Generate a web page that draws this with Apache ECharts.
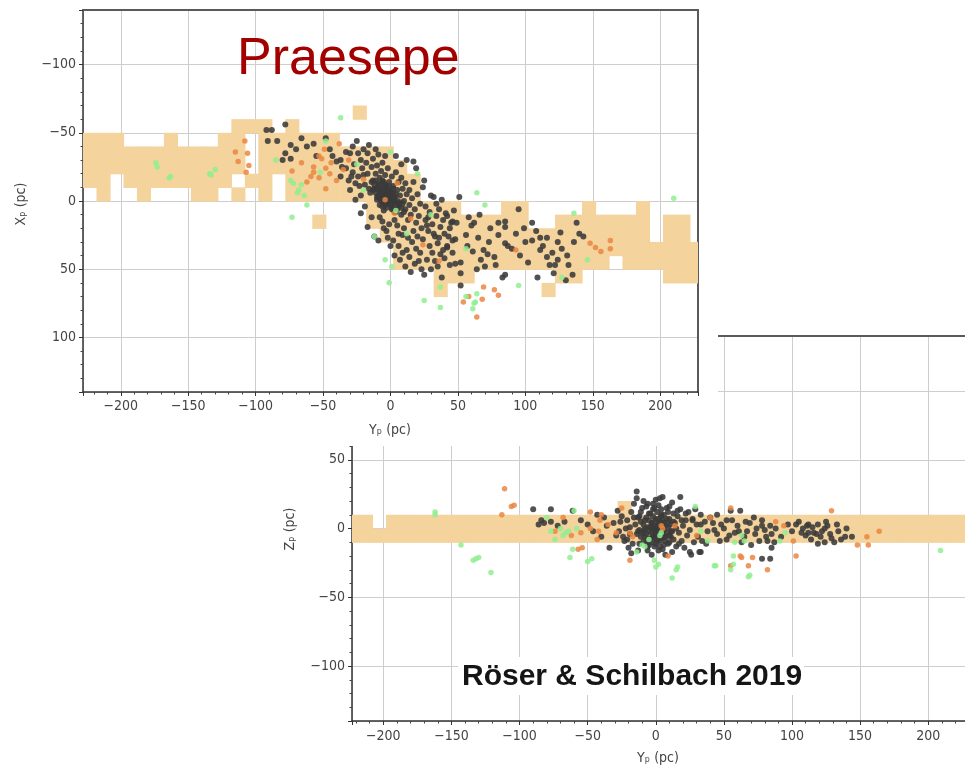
<!DOCTYPE html>
<html><head><meta charset="utf-8">
<script src="https://cdn.jsdelivr.net/npm/echarts@6.0.0/dist/echarts.min.js"></script>
<style>html,body{margin:0;padding:0;background:#fff}#c{width:965px;height:768px}</style>
</head><body><div id="c"></div>
<script>
// ---------- DATA ----------
const titleText = 'Praesepe';
const creditText = 'Röser & Schilbach 2019';
const xNameTop = 'X\u209A (pc)';
const yNameTop = 'Y\u209A (pc)';
const zNameBot = 'Z\u209A (pc)';
const tickStep = 50;

// model density cells (bin origin and size in pc)
const cellOrigin = -228;
const cellSize = 10;
// top panel: Xp row starts and filled column ranges (column index from cellOrigin)
const topCellRows = [-70,-60,-50,-40,-30,-20,-10,0,10,20,30,40,50,60];
const topCellCols = [
  [[20,20]],
  [[11,13],[15,15]],
  [[0,2],[6,6],[10,11],[13,18]],
  [[0,11],[13,22]],
  [[0,11],[13,23]],
  [[0,1],[3,10],[12,13],[15,24]],
  [[1,1],[4,4],[8,9],[11,11],[13,13],[15,24]],
  [[21,27],[31,32],[37,37],[41,41]],
  [[17,17],[21,32],[35,41],[43,44]],
  [[22,41],[43,44]],
  [[23,45]],
  [[23,38],[40,45]],
  [[26,28],[35,36],[43,45]],
  [[26,26],[34,34]]
];
// bottom panel: Zp row starts and filled column ranges
const botCellRows = [-10, 0, 10];
const botCellCols = [
  [[0,45]],
  [[0,1],[3,45]],
  [[20,20]]
];

// top panel stars [Yp, Xp]
const topDark = [
[-92,-52],[-88,-52],[-78,-56],[-91,-44],[-84,-44],[-74,-41],[-62,-40],[-78,-35],[-80,-30],[-74,-31],[-70,-38],[-66,-46],[-57,-42],[-55,-33],[-48,-46],[-45,-38],[-43,-33],[-40,-29],[-37,-30],[-36,-25],[-33,-36],[-30,-35],[-28,-40],[-25,-44],[-24,-35],[-22,-30],[-20,-38],[-17,-35],[-16,-41],[-13,-31],[-11,-38],[-9,-34],[-6,-28],[-4,-33],[4,-33],[8,-27],[12,-30],[17,-29],[19,-24],
[-37,-18],[-28,-21],[-30,-8],[-26,-13],[-22,-4],[-33,-24],[-31,-15],[-27,-27],[-24,-18],[-21,-24],[-19,-12],[-18,-28],[-17,-20],[-15,-6],[-14,-25],[-13,-15],[-12,-9],[-11,-20],[-10,-26],[-10,-3],[-9,-13],[-8,-17],[-7,-22],[-7,-8],[-6,-1],[-5,-14],[-4,-19],[-4,-6],[-3,-10],[-2,-24],[-2,2],[-1,-14],[0,-7],[1,-18],[1,5],[2,-11],[3,-3],[4,-21],[4,8],[5,-8],[6,-14],[6,2],[7,-4],[8,-17],[8,10],[9,-9],[10,0],[11,-13],[11,6],[12,-5],[13,14],[14,-8],[14,3],[15,10],[16,-2],[17,-14],[18,6],[19,16],[20,-5],[21,11],[22,2],[23,20],[24,-10],[25,-15],[26,4],[26,14],[28,22],[29,8],[30,-4],[31,17],[32,-3],[33,26],[34,11],[35,31],[36,6],[37,19],[38,-1],[39,36],[40,24],[42,11],[42,33],[44,20],[45,16],[46,38],[47,7],[48,28],[48,46],
[-22,9],[-17,19],[-12,26],[-9,29],[-6,15],[-3,22],[0,33],[2,29],[3,40],[5,18],[7,43],[9,25],[11,48],[12,36],[14,41],[16,30],[18,46],[20,26],[22,38],[25,54],[27,43],[29,33],[30,50],[32,24],[35,48],[37,39],[38,56],[42,34],[-14,12],[-19,4],[-26,-1],
[-8,12],[-5,20],[-1,17],[3,14],[6,24],[10,20],[13,27],[17,22],[19,35],[21,44],[24,28],[27,18],[31,38],[33,44],[36,27],[40,42],[43,26],[44,47],[23,50],[15,52],[9,38],[6,33],[-2,27],[28,12],[34,2],[39,14],[-16,-9],[-20,-19],[-23,-11],[-29,-18],
[-3,-2],[-2,-3],[-4,-1],[-1,-2],[-5,-4],[-3,0],[-2,-5],[-6,-2],[0,-1],[-4,-6],[-1,0],[-7,-5],[1,-3],[-5,1],[-3,-4],[-2,1],[-8,-7],[2,0],[-6,-8],[0,-5],[-4,3],[-9,-4],[1,2],[-7,0],[3,1],[-1,-7],[-10,-9],[2,-6],[-5,-10],[4,3],[-8,-2],[0,3],[-11,-6],[3,-2],[-6,4],[5,0],[-2,-9],[-9,-11],[6,4],[-12,-12],[-4,-12],[1,6],[-3,5],[7,1],[-7,-12],[2,-9],[-10,-1],[5,6],[-13,-8],[8,5],[-1,-11],[3,8],[-6,-15],[-14,-14],[9,2],[-8,3],[4,-5],[-5,7],[10,8],[-11,-15],
[51,-3],[41,9],[46,15],[49,16],[62,16],[74,20],[80,16],[85,15],[85,19],[46,29],[73,30],[80,25],[85,31],[87,33],[61,37],[67,43],[77,41],[78,47],[85,54],[52,53],[52,62],[105,16],[105,29],[111,27],[116,27],[111,36],[116,41],[120,38],[118,47],[122,47],[124,43],[126,23],[124,30],[131,40],[136,30],[138,16],[140,24],[143,26],[109,56],[130,58],[135,54],[83,56],[52,45],[56,25],[60,18],[65,27],[69,36],[70,48],[72,39],[57,33],[64,50],[90,35],[93,24],[96,40],[100,30],[99,20],[102,45],[108,22],[113,33],[127,35],[132,47],[121,53],[58,12],[66,10],[95,6]
];
const topOrange = [
[-108,-44],[-115,-36],[-106,-35],[-113,-29],[-105,-26],[-107,-21],[-73,-22],[-57,-25],[-53,-17],[-44,-28],[-40,-15],[-59,-18],[-35,-23],[-49,-38],[-48,-9],[-38,-42],[-66,-28],[-62,-14],[-51,-31],[-45,-20],[-31,-30],[-53,-33],[-48,-24],[-57,-21],[-4,-1],[3,9],[5,-13],[-20,-16],[148,31],[156,37],[163,29],[163,35],[152,34],[93,36],[69,63],[77,65],[80,69],[54,74],[68,72],[64,85],[58,70],[36,44],[24,32],[15,13]
];
const topGreen = [
[-174,-28],[-164,-17],[-134,-20],[-173,-25],[-133,-19],[-130,-23],[-163,-18],[-48,-44],[-74,-15],[-69,-6],[-62,3],[-73,12],[-37,-61],[-72,-13],[-64,-4],[-68,-8],[-66,-12],[0,-36],[4,7],[12,24],[1,48],[-1,60],[37,63],[25,73],[37,78],[63,74],[64,-6],[70,3],[136,9],[210,-2],[56,35],[95,62],[56,70],[64,68],[61,79],[62,75],[127,56],[146,43],[-12,26],[-4,43],[20,-20],[30,10],[-20,-8],[-25,-27],[-52,-21],[-85,-30]
];

// bottom panel stars [Yp, Zp]
const botDark = [
[-90,14],[-77,14],[-84,6],[-77,5],[-82,4],[-61,13],[-43,10],[-38,8],[-34,-14],[-29,-5],[-86,3],[-72,2],[-67,5],[-55,6],[-50,3],[-46,-2],[-40,-6],[-36,2],[-31,4],[-27,-2],[-25,9],[-23,-9],
[-14,27],[-14,22],[-6,18],[0,21],[5,23],[18,23],[-28,13],[-18,12],[9,12],[16,13],[22,11],[33,10],[-13,-16],[-7,-11],[26,-19],[33,-17],[-21,6],[-19,-4],[-17,-11],[-15,3],[-12,9],[-11,-6],[-10,15],[-9,-2],[-8,6],[-6,-16],[-5,11],[-4,-8],[-3,3],[-2,14],[-1,-13],[0,7],[1,-4],[2,17],[3,-9],[4,10],[5,-15],[6,4],[7,-6],[8,15],[9,-11],[10,7],[11,-2],[12,19],[13,-8],[14,4],[15,-13],[16,9],[17,-3],[18,14],[19,-9],[20,2],[21,-14],[22,6],[23,-5],[24,12],[25,-1],[27,7],[28,-10],[30,3],[-24,-6],[-22,0],[-26,5],[-20,-14],[-16,18],[-9,20],[-3,-19],[3,22],[7,-19],[12,-17],[-18,-18],[29,14],
[-16,8],[-13,-2],[-11,12],[-8,-6],[-7,16],[-5,-12],[-2,18],[2,-16],[4,14],[6,-12],[9,5],[11,-6],[13,11],[15,0],[17,-11],[19,6],[-19,1],[-21,-8],[10,16],[-12,-11],
[0,-2],[-1,-1],[1,-3],[-2,0],[2,-1],[-3,-3],[0,1],[3,-4],[-1,-5],[-4,1],[1,2],[4,0],[-2,-6],[-5,-2],[2,3],[5,-3],[-3,4],[0,-7],[-6,1],[3,5],[6,-1],[-4,-7],[-1,5],[4,-7],[-7,-4],[1,-9],[7,2],[-5,6],[-8,0],[6,-6],[2,7],[-3,-10],[8,-3],[-6,-8],[-9,3],[5,6],[-2,9],[0,-11],[9,1],[-10,-3],[4,9],[-7,8],[7,-9],[-11,5],[10,-5],[-4,11],[1,12],[8,7],[-9,-9],[11,3],[-12,-1],[3,-13],[-6,-13],[12,-2],[-13,8],[6,10],[-1,15],[10,-10],[-14,-4],[13,5],
[27,6],[33,3],[34,-9],[38,-2],[45,-4],[50,0],[56,6],[62,13],[72,8],[78,6],[78,2],[67,-2],[73,-4],[76,-9],[82,-9],[85,-4],[85,-14],[78,-22],[84,-22],[63,-10],[52,-8],[37,-11],[25,-17],[32,-17],[105,5],[112,3],[107,-3],[110,-5],[119,3],[124,0],[126,2],[114,-8],[119,-11],[124,-10],[133,3],[134,-2],[131,-10],[139,-6],[144,-6],[112,-3],[118,-4],[55,13],[52,6],[84,2],[103,3],[111,2],[116,-3],[42,4],[47,-9],[58,-3],[69,4],[88,0],[92,-6],[97,3],[121,-6],[128,-4],[136,-8],[40,8],[60,2],[65,-6],[80,-1],[45,10],[70,-12],[100,-2],[125,5],[140,0],
[31,-6],[36,5],[43,-1],[48,3],[54,-5],[61,-2],[66,5],[74,0],[81,-6],[87,-10],[108,0],[115,1],[122,-2],[129,-7]
];
const botOrange = [
[-111,29],[-106,16],[-104,17],[-113,10],[-74,-2],[-55,-3],[-57,-15],[-48,12],[-48,0],[-43,-8],[-41,6],[-29,-3],[-19,-23],[-19,-3],[-17,-6],[4,2],[5,0],[14,2],[9,-20],[68,-27],[82,-30],[55,15],[62,-20],[103,-20],[-54,-14],[-40,10],[-42,-2],[129,13],[164,-2],[155,-6],[156,-12],[148,-12],[71,-21],[63,-21],[55,-27],[94,2],[101,-9],[-62,-5],[-35,3],[-25,15],[-68,8],[40,8],[30,-5],[88,5]
];
const botGreen = [
[-162,12],[-162,10],[-143,-12],[-132,-22],[-130,-21],[-134,-23],[-121,-32],[-80,8],[-77,-2],[-74,-8],[-70,0],[-64,-2],[-68,-5],[-61,-15],[-63,-21],[-47,-22],[12,-36],[2,-26],[-50,-24],[43,-27],[55,-30],[68,-35],[-60,13],[-58,0],[29,16],[33,-2],[38,-9],[57,-20],[16,-28],[-1,-23],[0,-28],[-14,-17],[65,-9],[91,-9],[209,-16],[63,-5],[58,-10],[95,-3],[57,-26],[69,-34],[15,-30],[44,-27],[4,-3],[3,-5],[-8,-13],[-5,-8],[-10,-12],[-66,-3]
];

// ---------- BUILD ----------
function buildCells(rows, cols) {
  const out = [];
  rows.forEach((r, i) => {
    cols[i].forEach(([a, b]) => {
      for (let c = a; c <= b; c++) out.push([cellOrigin + c * cellSize, r]);
    });
  });
  return out;
}
const topCells = buildCells(topCellRows, topCellCols);
const botCells = buildCells(botCellRows, botCellCols);

const TAN = '#f4d39c';
function cellRender(params, api) {
  const x0 = api.value(0), y0 = api.value(1);
  const a = api.coord([x0, y0]);
  const b = api.coord([x0 + cellSize, y0 + cellSize]);
  const rect = echarts.graphic.clipRectByRect({
    x: Math.min(a[0], b[0]), y: Math.min(a[1], b[1]),
    width: Math.abs(b[0] - a[0]) + 0.6, height: Math.abs(b[1] - a[1]) + 0.6
  }, {
    x: params.coordSys.x, y: params.coordSys.y,
    width: params.coordSys.width, height: params.coordSys.height
  });
  return rect && { type: 'rect', shape: rect, style: { fill: TAN } };
}

const FONT = '"DejaVu Sans Condensed", "DejaVu Sans"';
function fmt(v) {
  if (Math.abs(Math.round(v)) % tickStep !== 0 || Math.round(v) !== v) return '';
  return v < 0 ? '\u2212' + Math.abs(v) : String(v);
}
function mainAxis(extra) {
  return Object.assign({
    type: 'value', splitNumber: 9, minInterval: tickStep, maxInterval: tickStep,
    axisLine: { show: true, onZero: false, lineStyle: { color: '#333', width: 1.5 } },
    axisTick: { show: true, length: 4, lineStyle: { color: '#333', width: 1 } },
    minorTick: { show: true, splitNumber: 5, length: 2.5, lineStyle: { color: '#444', width: 1 } },
    axisLabel: { formatter: fmt, showMinLabel: false, showMaxLabel: false, fontSize: 14, color: '#444', fontFamily: FONT, margin: 7 },
    splitLine: { show: true, lineStyle: { color: '#cdcdcd', width: 1 } }
  }, extra);
}
function borderAxis(extra) {
  return Object.assign({
    type: 'value',
    axisLine: { show: true, onZero: false, lineStyle: { color: '#5a5a5a', width: 2 } },
    axisTick: { show: false }, axisLabel: { show: false }, splitLine: { show: false }, minorTick: { show: false }
  }, extra);
}

const chart = echarts.init(document.getElementById('c'), null, { renderer: 'canvas' });
const option = {
  animation: false,
  backgroundColor: '#fff',
  grid: [
    { left: 352, right: -5, top: 336, bottom: 47 },
    { left: 83, top: 10, width: 615, height: 382 }
  ],
  xAxis: [
    mainAxis({ gridIndex: 0, min: -223, max: 227, position: 'bottom', z: 0, axisLabel: { formatter: fmt, showMinLabel: false, showMaxLabel: false, fontSize: 14, color: '#444', fontFamily: FONT, margin: 8 } }),
    mainAxis({ gridIndex: 1, min: -228, max: 228, position: 'bottom', z: 11 }),
    borderAxis({ gridIndex: 1, min: -228, max: 228, position: 'top', z: 11 }),
    borderAxis({ gridIndex: 0, min: -223, max: 227, position: 'top', z: 0 })
  ],
  yAxis: [
    mainAxis({ gridIndex: 0, min: -140, max: 140, splitNumber: 6, position: 'left', z: 0 }),
    mainAxis({ gridIndex: 1, min: -140, max: 140, splitNumber: 6, position: 'left', inverse: true, z: 11 }),
    borderAxis({ gridIndex: 1, min: -140, max: 140, position: 'right', inverse: true, z: 11 })
  ],
  series: [
    { type: 'custom', xAxisIndex: 0, yAxisIndex: 0, data: botCells, renderItem: cellRender, z: 1, silent: true },
    { type: 'scatter', xAxisIndex: 0, yAxisIndex: 0, data: botDark, symbolSize: 6, itemStyle: { color: '#3a3a3a', opacity: 0.88 }, z: 2, silent: true },
    { type: 'scatter', xAxisIndex: 0, yAxisIndex: 0, data: botOrange, symbolSize: 5.5, itemStyle: { color: '#ea8642', opacity: 0.85 }, z: 3, silent: true },
    { type: 'scatter', xAxisIndex: 0, yAxisIndex: 0, data: botGreen, symbolSize: 5.5, itemStyle: { color: '#8fee8f', opacity: 0.85 }, z: 4, silent: true },
    { type: 'custom', xAxisIndex: 1, yAxisIndex: 1, data: topCells, renderItem: cellRender, z: 12, silent: true },
    { type: 'scatter', xAxisIndex: 1, yAxisIndex: 1, data: topDark, symbolSize: 6, itemStyle: { color: '#3a3a3a', opacity: 0.88 }, z: 13, silent: true },
    { type: 'scatter', xAxisIndex: 1, yAxisIndex: 1, data: topOrange, symbolSize: 5.5, itemStyle: { color: '#ea8642', opacity: 0.85 }, z: 14, silent: true },
    { type: 'scatter', xAxisIndex: 1, yAxisIndex: 1, data: topGreen, symbolSize: 5.5, itemStyle: { color: '#8fee8f', opacity: 0.85 }, z: 15, silent: true }
  ],
  graphic: [
    { type: 'rect', z: 10, silent: true, shape: { x: 0, y: 0, width: 718, height: 446 }, style: { fill: '#fff' } },
    { type: 'text', z: 21, x: 237, y: 60, style: { text: titleText, font: '52px "Liberation Sans"', fill: '#a30000', textVerticalAlign: 'middle', verticalAlign: 'middle' } },
    { type: 'rect', z: 20, silent: true, shape: { x: 458, y: 657, width: 346, height: 38 }, style: { fill: '#fff' } },
    { type: 'text', z: 21, x: 462, y: 677, style: { text: creditText, font: 'bold 30px "Liberation Sans"', fill: '#151515', textVerticalAlign: 'middle', verticalAlign: 'middle' } },
    { type: 'text', z: 21, x: 390, y: 430, style: { text: yNameTop, font: '14px "DejaVu Sans Condensed", "DejaVu Sans"', fill: '#444', textAlign: 'center', align: 'center', textVerticalAlign: 'middle', verticalAlign: 'middle' } },
    { type: 'text', z: 21, x: 21, y: 204, rotation: Math.PI / 2, style: { text: xNameTop, font: '14px "DejaVu Sans Condensed", "DejaVu Sans"', fill: '#444', textAlign: 'center', align: 'center', textVerticalAlign: 'middle', verticalAlign: 'middle' } },
    { type: 'text', z: 5, x: 658, y: 758, style: { text: yNameTop, font: '14px "DejaVu Sans Condensed", "DejaVu Sans"', fill: '#444', textAlign: 'center', align: 'center', textVerticalAlign: 'middle', verticalAlign: 'middle' } },
    { type: 'text', z: 5, x: 290, y: 529, rotation: Math.PI / 2, style: { text: zNameBot, font: '14px "DejaVu Sans Condensed", "DejaVu Sans"', fill: '#444', textAlign: 'center', align: 'center', textVerticalAlign: 'middle', verticalAlign: 'middle' } }
  ]
};
chart.setOption(option);
</script></body></html>
